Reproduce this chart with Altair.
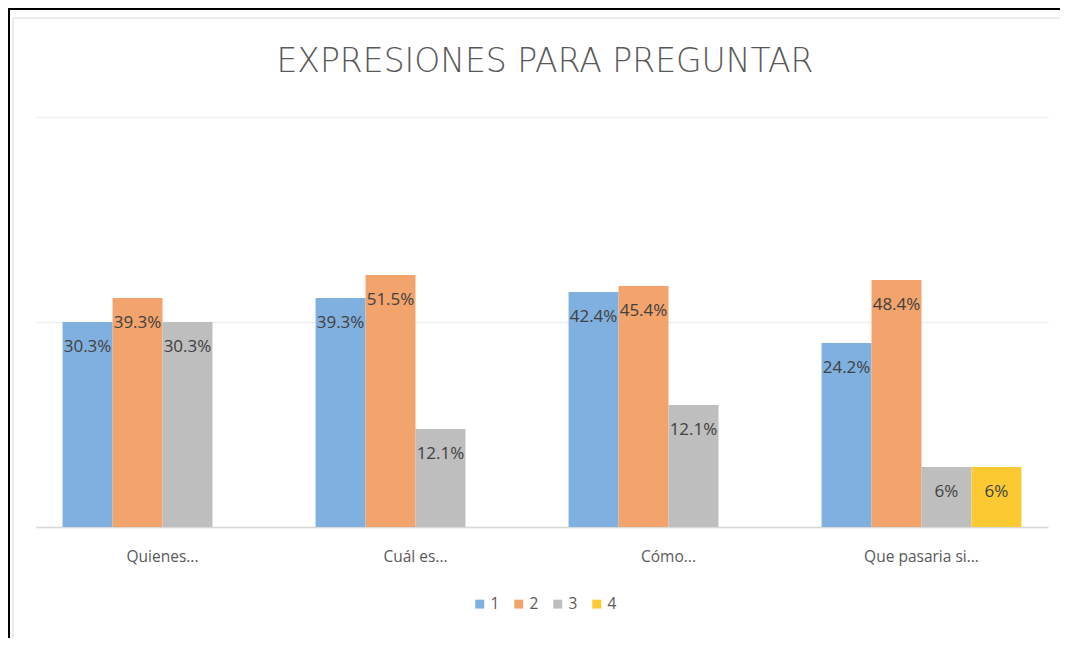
import altair as alt
import pandas as pd

categories = ["Quienes...", "Cuál es...", "Cómo...", "Que pasaria si..."]
series = ["1", "2", "3", "4"]
# bar heights (axis units, gridlines at 10 and 20)
h1 = [10.0, 11.17, 11.46, 8.98]
h2 = [11.17, 12.29, 11.76, 12.05]
h3 = [10.0, 4.78, 5.95, 2.93]
h4 = [None, None, None, 2.93]
# data labels printed on the bars
l1 = ["30.3%", "39.3%", "42.4%", "24.2%"]
l2 = ["39.3%", "51.5%", "45.4%", "48.4%"]
l3 = ["30.3%", "12.1%", "12.1%", "6%"]
l4 = [None, None, None, "6%"]
title_text = ["EXPRESIONES PARA PREGUNTAR"]
colors = ["#80B0DF", "#F3A36C", "#BEBEBE", "#FBCA33"]

rows = []
for s, hs, ls in zip(series, [h1, h2, h3, h4], [l1, l2, l3, l4]):
    for c, h, l in zip(categories, hs, ls):
        if h is not None:
            rows.append({"cat": c, "series": s, "h": h, "label": l})
df = pd.DataFrame(rows)

PL, PT, W, H = 28, 109, 1012, 410

base = alt.Chart(df).encode(
    x=alt.X("cat:N", sort=categories,
            scale=alt.Scale(paddingInner=0.21, paddingOuter=0.105),
            axis=alt.Axis(title=None, labelAngle=0, ticks=False, domain=True,
                          domainColor="#D9D9D9", domainWidth=1.5,
                          labelFont="Open Sans", labelFontSize=15.5,
                          labelColor="#595959", labelPadding=22)),
    xOffset=alt.XOffset("series:N", scale=alt.Scale(domain=series, paddingInner=0, paddingOuter=0)),
    y=alt.Y("h:Q", scale=alt.Scale(domain=[0, 20]),
            axis=alt.Axis(values=[0, 10, 20], grid=True, labels=False, ticks=False,
                          domain=False, title=None, gridColor="#EFEFEF", gridWidth=1.5)),
)

bars = base.mark_bar().encode(
    color=alt.Color("series:N", scale=alt.Scale(domain=series, range=colors),
                    legend=alt.Legend(title=None, orient="none", direction="horizontal",
                                      legendX=436, legendY=479, symbolType="square",
                                      symbolSize=80, symbolStrokeWidth=0,
                                      labelFont="Open Sans", labelFontSize=15.5,
                                      labelColor="#595959", labelOffset=3,
                                      columnPadding=11))
)

texts = base.mark_text(dy=25, font="Open Sans", fontSize=17, color="#404040").encode(
    text="label:N"
)

title = alt.Chart(pd.DataFrame({"t": title_text})).mark_text(
    font="DejaVu Sans", fontSize=33, fontWeight=300, color="#595959",
    align="center", baseline="middle"
).encode(x=alt.value(509), y=alt.value(-55), text="t:N")

frame_top = alt.Chart(df).mark_rule(color="#000000", strokeWidth=2).encode(
    x=alt.value(-PL), x2=alt.value(W + 12), y=alt.value(-PT + 1)
)
frame_left = alt.Chart(df).mark_rule(color="#000000", strokeWidth=2).encode(
    x=alt.value(-PL + 1), y=alt.value(-PT), y2=alt.value(H + 111)
)
inner_top = alt.Chart(df).mark_rule(color="#ECECEC", strokeWidth=2).encode(
    x=alt.value(-PL + 5), x2=alt.value(W + 12), y=alt.value(-PT + 10)
)
inner_left = alt.Chart(df).mark_rule(color="#ECECEC", strokeWidth=2).encode(
    x=alt.value(-PL + 5), y=alt.value(-PT + 10), y2=alt.value(H + 111)
)

chart = alt.layer(frame_top, frame_left, inner_top, inner_left, bars, texts, title).properties(
    width=W, height=H,
    padding={"left": PL, "top": PT, "right": 12, "bottom": 111},
    autosize=alt.AutoSizeParams(type="none"),
).configure_view(stroke=None)

chart.save("out.html", embed_options={"renderer": "svg", "actions": False})
